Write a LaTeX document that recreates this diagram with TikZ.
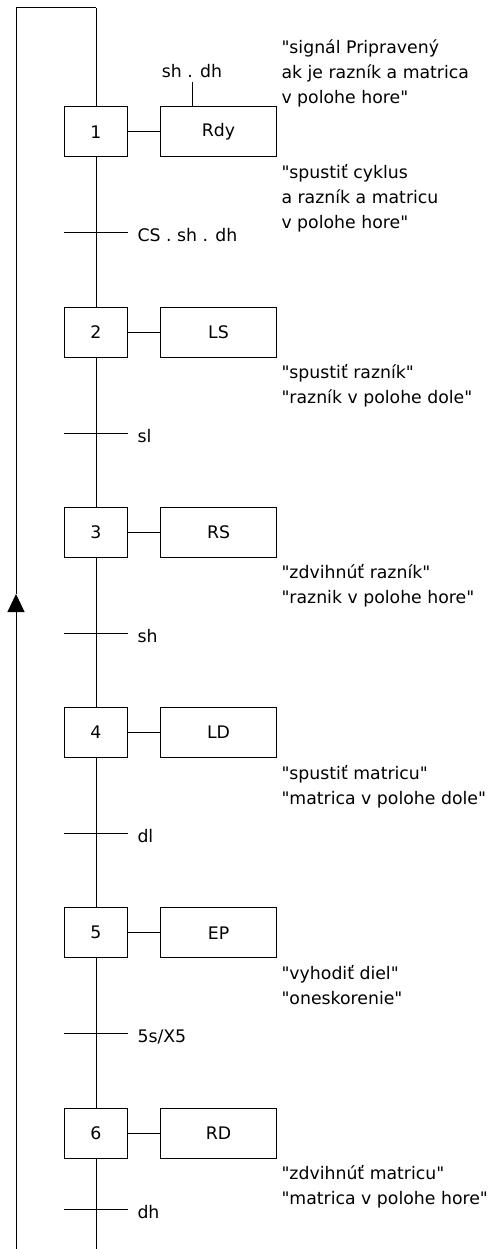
\documentclass[tikz,border=0pt]{standalone}
\usepackage{fontspec}
\setmainfont[Ligatures=TeXOff]{DejaVu Sans}
\usetikzlibrary{arrows.meta, positioning}
\newlength{\stepgap}
\setlength{\stepgap}{149.2pt}
\newlength{\actgap}
\setlength{\actgap}{32pt}
\newcommand{\readytext}{\strut"signál Pripravený \\ ak je razník a matrica \\ v polohe hore"}
\newcommand{\cycletext}{\strut"spustiť cyklus \\ a razník a matricu \\ v polohe hore"}
\newcommand{\punchdowntext}{\strut"spustiť razník" \\ "razník v polohe dole"}
\newcommand{\punchuptext}{\strut"zdvihnúť razník" \\ "raznik v polohe hore"}
\newcommand{\diedowntext}{\strut"spustiť matricu" \\ "matrica v polohe dole"}
\newcommand{\ejecttext}{\strut"vyhodiť diel" \\ "oneskorenie"}
\newcommand{\dieuptext}{\strut"zdvihnúť matricu" \\ "matrica v polohe hore"}

\begin{document}
\begin{tikzpicture}[font=\fontsize{17.3}{25}\selectfont, line width=1pt,
  stepbox/.style={rectangle, draw, minimum width=63pt, minimum height=50pt, inner sep=0pt},
  actbox/.style={rectangle, draw, minimum width=116pt, minimum height=50pt, inner sep=0pt},
  trans/.style={rectangle, minimum width=63pt, minimum height=0pt, inner sep=0pt},
  cond/.style={inner sep=0pt, text height=18pt, text depth=0pt},
  note/.style={anchor=north west, inner sep=0pt, align=left}]
  \useasboundingbox (0pt,0pt) rectangle (487pt,-1249pt);

  %steps down the main line
  \node[stepbox] (s1) at (96pt,-132pt) {1};
  \node[stepbox, below=\stepgap of s1] (s2) {2};
  \node[stepbox, below=\stepgap of s2] (s3) {3};
  \node[stepbox, below=\stepgap of s3] (s4) {4};
  \node[stepbox, below=\stepgap of s4] (s5) {5};
  \node[stepbox, below=\stepgap of s5] (s6) {6};

  %actions next to the steps
  \node[actbox, right=\actgap of s1] (a1) {Rdy};
  \node[actbox, right=\actgap of s2] (a2) {LS};
  \node[actbox, right=\actgap of s3] (a3) {RS};
  \node[actbox, right=\actgap of s4] (a4) {LD};
  \node[actbox, right=\actgap of s5] (a5) {EP};
  \node[actbox, right=\actgap of s6] (a6) {RD};

  %transitions and their conditions
  \node[trans, below=75pt of s1] (t1) {};
  \node[trans, below=75pt of s2] (t2) {};
  \node[trans, below=75pt of s3] (t3) {};
  \node[trans, below=75pt of s4] (t4) {};
  \node[trans, below=75pt of s5] (t5) {};
  \node[trans, below=50pt of s6] (t6) {};
  \node[cond, right=9pt of t1] (l1) {CS . sh . dh};
  \node[cond, right=9pt of t2] (l2) {sl};
  \node[cond, right=9pt of t3] (l3) {sh};
  \node[cond, right=9pt of t4] (l4) {dl};
  \node[cond, right=9pt of t5] (l5) {5s/X5};
  \node[cond, right=9pt of t6] (l6) {dh};
  \node[inner sep=0pt, anchor=south] (c1) at ([shift={(32pt,28pt)}]a1.north west) {sh . dh};

  %comments beside the actions
  \node[note] (n0) at ([shift={(4pt,70.5pt)}]a1.north east) {\readytext};
  \node[note] (n1) at ([shift={(4pt,-3pt)}]a1.south east) {\cycletext};
  \node[note] (n2) at ([shift={(4pt,-3pt)}]a2.south east) {\punchdowntext};
  \node[note] (n3) at ([shift={(4pt,-3pt)}]a3.south east) {\punchuptext};
  \node[note] (n4) at ([shift={(4pt,-3pt)}]a4.south east) {\diedowntext};
  \node[note] (n5) at ([shift={(4pt,-3pt)}]a5.south east) {\ejecttext};
  \node[note] (n6) at ([shift={(4pt,-3pt)}]a6.south east) {\dieuptext};

  %ends of the main line and of the return line
  \coordinate (top) at (96pt,-8pt);
  \coordinate (bot) at (96pt,-1249pt);
  \coordinate (rtop) at (16pt,-8pt);
  \coordinate (rarr) at (16pt,-594pt);
  \coordinate (rbot) at (16pt,-1249pt);

  %main line through steps
  \draw (top) -- (s1);
  \draw (s1) -- (s2);
  \draw (s2) -- (s3);
  \draw (s3) -- (s4);
  \draw (s4) -- (s5);
  \draw (s5) -- (s6);
  \draw (s6) -- (bot);

  %transition bars
  \draw (t1.west) -- (t1.east);
  \draw (t2.west) -- (t2.east);
  \draw (t3.west) -- (t3.east);
  \draw (t4.west) -- (t4.east);
  \draw (t5.west) -- (t5.east);
  \draw (t6.west) -- (t6.east);

  %links from steps to actions
  \draw (s1) -- (a1);
  \draw (s2) -- (a2);
  \draw (s3) -- (a3);
  \draw (s4) -- (a4);
  \draw (s5) -- (a5);
  \draw (s6) -- (a6);
  \draw (c1.south |- a1.north) -- ([yshift=-4pt]c1.south);

  %return line back to the first step
  \draw[-{Triangle[width=17pt,length=18pt]}] (rbot) -- (rarr);
  \draw (rarr) -- (rtop) -- (top);
\end{tikzpicture}
\end{document}
